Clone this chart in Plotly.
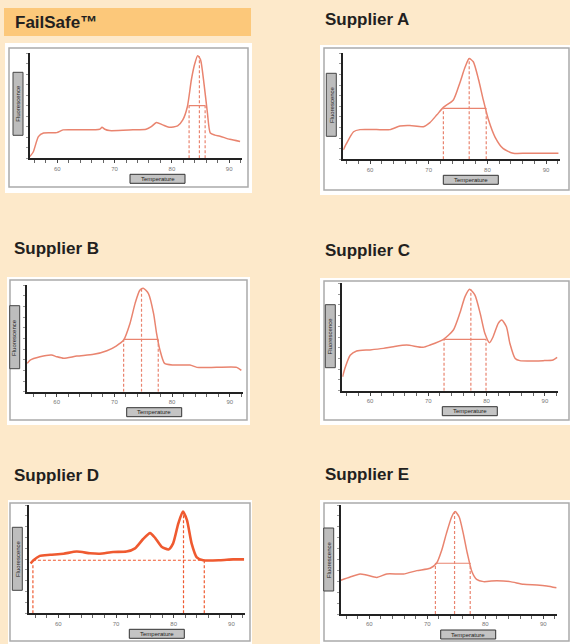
import plotly.graph_objects as go

# ---------------- data ----------------
tick_values = [60, 70, 80, 90]
tick_labels = ["60", "70", "80", "90"]
x_label = "Temperature"
y_label = "Fluorescence"

titles = ["FailSafe™", "Supplier A", "Supplier B", "Supplier C", "Supplier D", "Supplier E"]

fs_temp = [55.2, 55.8, 56.7, 57.6, 59.9, 61.0, 64.5, 67.4, 67.8, 68.3, 69.1, 73.2, 75.5, 76.4,
           77.3, 78.4, 79.5, 81.0, 81.9, 82.7, 83.4, 84.0, 84.5, 85.0, 85.6, 86.2, 86.7, 87.5,
           88.4, 90.1, 91.9]
fs_fluo = [1.6, 6, 20.6, 24, 24.4, 27, 27, 27.6, 29.5, 27.6, 26.3, 27, 27.6, 30,
           34, 31.7, 29.5, 30.8, 36.5, 49, 74.6, 90, 97.5, 93.6, 71, 43, 24, 22,
           21, 18, 16]
fs_mark_x = [83.0, 84.8, 85.8]
fs_mark_top = [52, 97, 52]
fs_half = 50

a_temp = [55.45, 56.0, 57.2, 58.3, 61.1, 63.4, 65.1, 66.8, 69.1, 70.2, 71.4, 72.5, 74.2, 75.3,
          76.2, 76.9, 77.6, 78.5, 79.3, 80.2, 81.3, 82.7, 84.4, 86.7, 92.1]
a_fluo = [8.8, 15, 26, 28, 28, 28, 31.4, 31.8, 30.8, 34.6, 42, 49, 56, 72,
          87, 95, 92, 75, 56, 37, 21, 10, 5.7, 5.7, 5.7]
a_mark_x = [72.5, 76.9, 79.8]
a_mark_top = [48, 95, 48]
a_half = 48

b_temp = [54.9, 55.4, 57.1, 59.1, 60.0, 61.2, 63.5, 66.4, 68.7, 70.3, 71.6, 72.7, 73.6, 74.4,
          75.0, 75.9, 76.8, 77.3, 77.9, 78.7, 80.2, 83.1, 84.3, 87.7, 91.2, 92.0]
b_fluo = [26.5, 29.7, 32.8, 34.4, 32.8, 31.3, 33.4, 35, 38.4, 42.8, 48.4, 64, 83, 95,
          97, 92, 73, 55, 39, 26.5, 25, 25, 22.8, 22.8, 22.8, 20]
b_mark_x = [71.6, 74.7, 77.6]
b_mark_top = [49, 97, 49]
b_half = 49

c_temp = [55.3, 55.7, 56.6, 57.7, 60.0, 62.3, 64.0, 66.3, 69.1, 70.3, 72.6, 74.3, 75.4, 76.3,
          77.1, 78.0, 78.9, 79.7, 80.5, 81.1, 82.0, 82.6, 83.4, 84.0, 84.9, 85.7, 89.7, 91.4, 92.1]
c_fluo = [13, 20.8, 33, 37, 38, 39.4, 41, 42.5, 40.4, 42.5, 47.8, 56.5, 72, 87.6,
          94.4, 89, 72, 53.4, 44.7, 50, 62.7, 65.8, 59.6, 44, 30, 28, 28, 28.6, 31]
c_mark_x = [72.7, 77.3, 79.9]
c_mark_top = [47.8, 94.4, 47.8]
c_half = 47.8

d_temp = [55.2, 55.7, 56.8, 58.6, 60.9, 63.2, 65.5, 67.2, 69.5, 71.8, 73.3, 74.7, 75.9, 76.8,
          77.9, 79.1, 79.9, 80.8, 81.6, 82.3, 83.1, 84.0, 85.1, 88.0, 90.3, 92.2]
d_fluo = [46, 49, 53, 54, 55, 57, 55.4, 55, 56.6, 57, 60, 68.6, 74, 69.5,
          61.5, 59, 64.6, 83, 94, 86, 64.6, 51.7, 49, 49, 49.8, 49.8]
d_mark_x = [55.6, 81.7, 85.3]
d_mark_top = [46, 94, 49]
d_half = 49

e_temp = [55.1, 56.7, 58.4, 59.5, 61.3, 63.0, 65.9, 68.2, 70.5, 71.6, 72.5, 73.3, 74.2, 74.8,
          75.5, 76.2, 76.9, 77.7, 78.5, 79.7, 82.0, 84.3, 86.6, 88.9, 90.6, 92.3]
e_fluo = [31, 34, 36.7, 35.8, 33.6, 36.7, 36.7, 39.8, 42, 46.5, 58.7, 74, 89, 94,
          89, 74, 55.7, 38.8, 31.8, 29.7, 30.6, 29.7, 27.2, 26.6, 25.7, 24]
e_mark_x = [71.4, 74.7, 77.4]
e_mark_top = [46.5, 94, 46.5]
e_half = 46.5

series = [
    (fs_temp, fs_fluo, fs_mark_x, fs_mark_top, fs_half),
    (a_temp, a_fluo, a_mark_x, a_mark_top, a_half),
    (b_temp, b_fluo, b_mark_x, b_mark_top, b_half),
    (c_temp, c_fluo, c_mark_x, c_mark_top, c_half),
    (d_temp, d_fluo, d_mark_x, d_mark_top, d_half),
    (e_temp, e_fluo, e_mark_x, e_mark_top, e_half),
]

# ---------------- layout geometry (pixels) ----------------
W, H = 570, 644
BG = "#FDE9CA"
BAND = "#FCC87A"
LIGHT = "#E9846F"
STRONG = "#EF5A30"


def fx(p):
    return p / W


def fy(p):
    return 1 - p / H


# per panel: title pos, white box, grey frame, y-axis x px, px of "60", px per unit, x-axis y px, top px
geo = [
    dict(t=(13, 22), box=(5, 43, 252, 193), frame=(9, 48, 248, 187), ax0=30.0, x60=57.3, ppu=5.73, axy=158.3, top=53.0),
    dict(t=(323, 20), box=(320, 45, 571, 195), frame=(324, 48, 569, 190), ax0=343.3, x60=370.0, ppu=5.87, axy=159.3, top=53.3),
    dict(t=(12, 248), box=(7, 277, 250, 425), frame=(10, 280, 247, 420), ax0=26.7, x60=56.7, ppu=5.77, axy=391.7, top=285.0),
    dict(t=(323, 250), box=(320, 278, 571, 425), frame=(324, 281, 569, 420), ax0=342.3, x60=370.0, ppu=5.83, axy=390.7, top=283.3),
    dict(t=(12, 475), box=(8, 500, 252, 645), frame=(10, 503, 250, 641), ax0=29.3, x60=58.3, ppu=5.77, axy=613.3, top=505.0),
    dict(t=(323, 474), box=(320, 500, 571, 645), frame=(324, 503, 569, 641), ax0=340.7, x60=369.3, ppu=5.8, axy=614.0, top=505.0),
]
XMAX = 92.3

fig = go.Figure()
shapes = []
annotations = []

# title band for FailSafe
shapes.append(dict(type="rect", xref="paper", yref="paper", x0=fx(4), x1=fx(251), y0=fy(36), y1=fy(8),
                   fillcolor=BAND, line=dict(width=0), layer="below"))

for i, (g, (tx, ty, mx, mtop, half)) in enumerate(zip(geo, series)):
    n = "" if i == 0 else str(i + 1)
    xmin = 60 - (g["x60"] - g["ax0"]) / g["ppu"]
    x_right = g["ax0"] + (XMAX - xmin) * g["ppu"]
    xa = dict(domain=[fx(g["ax0"]), fx(x_right)], range=[xmin, XMAX], showgrid=False, zeroline=False,
              showline=True, linecolor="#222222", linewidth=2,
              tickmode="array", tickvals=tick_values, ticktext=tick_labels,
              ticks="outside", ticklen=3, tickwidth=1, tickcolor="#444444",
              minor=dict(dtick=2, tick0=60, ticks="outside", ticklen=3, tickcolor="#666666", tickwidth=1),
              tickfont=dict(size=6, color="#777777", family="Liberation Sans"),
              anchor="y" + n, fixedrange=True)
    ya = dict(domain=[fy(g["axy"]), fy(g["top"])], range=[0, 100], showgrid=False, zeroline=False,
              showline=True, linecolor="#222222", linewidth=2, showticklabels=False,
              ticks="outside", ticklen=2, tickcolor="#999999", dtick=10,
              anchor="x" + n, fixedrange=True)
    fig.layout["xaxis" + n] = xa
    fig.layout["yaxis" + n] = ya

    strong = (i == 4)
    col = STRONG if strong else LIGHT
    # dashed marker lines
    for xv, tv in zip(mx, mtop):
        fig.add_trace(go.Scatter(x=[xv, xv], y=[0, tv], mode="lines", xaxis="x" + n, yaxis="y" + n,
                                 line=dict(color=col, width=1.2, dash="3px,2px"),
                                 hoverinfo="skip", showlegend=False))
    fig.add_trace(go.Scatter(x=[mx[0], mx[-1]], y=[half, half], mode="lines", xaxis="x" + n, yaxis="y" + n,
                             line=dict(color=col, width=1.1, dash=("3px,2px" if strong else "solid")),
                             hoverinfo="skip", showlegend=False))
    # melt curve
    fig.add_trace(go.Scatter(x=tx, y=ty, mode="lines", xaxis="x" + n, yaxis="y" + n,
                             line=dict(color=col, width=(2.6 if strong else 1.5), shape="spline", smoothing=0.6),
                             hoverinfo="skip", showlegend=False))

    # panel white box and grey frame
    b = g["box"]
    shapes.append(dict(type="rect", xref="paper", yref="paper", x0=fx(b[0]), x1=fx(b[2]), y0=fy(b[3]), y1=fy(b[1]),
                       fillcolor="white", line=dict(width=0), layer="below"))
    f = g["frame"]
    shapes.append(dict(type="rect", xref="paper", yref="paper", x0=fx(f[0]), x1=fx(f[2]), y0=fy(f[3]), y1=fy(f[1]),
                       fillcolor="rgba(0,0,0,0)", line=dict(width=1.5, color="#ABABAB"), layer="below"))
    # y label box
    ax0, axy = g["ax0"], g["axy"]
    shapes.append(dict(type="rect", xref="paper", yref="paper", x0=fx(ax0 - 17), x1=fx(ax0 - 7),
                       y0=fy(axy - 23), y1=fy(axy - 86), fillcolor="#BDBDBD", line=dict(width=1, color="#444444")))
    annotations.append(dict(xref="paper", yref="paper", x=fx(ax0 - 12), y=fy(axy - 54.5), text=y_label,
                            textangle=-90, showarrow=False, font=dict(size=6, color="#222222", family="Liberation Sans"),
                            xanchor="center", yanchor="middle"))
    # x label box
    shapes.append(dict(type="rect", xref="paper", yref="paper", x0=fx(ax0 + 100), x1=fx(ax0 + 155),
                       y0=fy(axy + 25), y1=fy(axy + 16), fillcolor="#C4C4C4", line=dict(width=1, color="#333333")))
    annotations.append(dict(xref="paper", yref="paper", x=fx(ax0 + 127.5), y=fy(axy + 20.5), text=x_label,
                            showarrow=False, font=dict(size=6, color="#222222", family="Liberation Sans"),
                            xanchor="center", yanchor="middle"))
    # panel title
    tpos = g["t"]
    annotations.append(dict(xref="paper", yref="paper", x=fx(tpos[0]), y=fy(tpos[1]), text="<b>" + titles[i] + "</b>",
                            showarrow=False, xanchor="left", yanchor="middle",
                            font=dict(size=17, color="#231F20", family="Liberation Sans")))

fig.update_layout(width=W, height=H, margin=dict(l=0, r=0, t=0, b=0), paper_bgcolor=BG, plot_bgcolor="rgba(0,0,0,0)",
                  shapes=shapes, annotations=annotations, showlegend=False)

fig.write_html("out.html")
